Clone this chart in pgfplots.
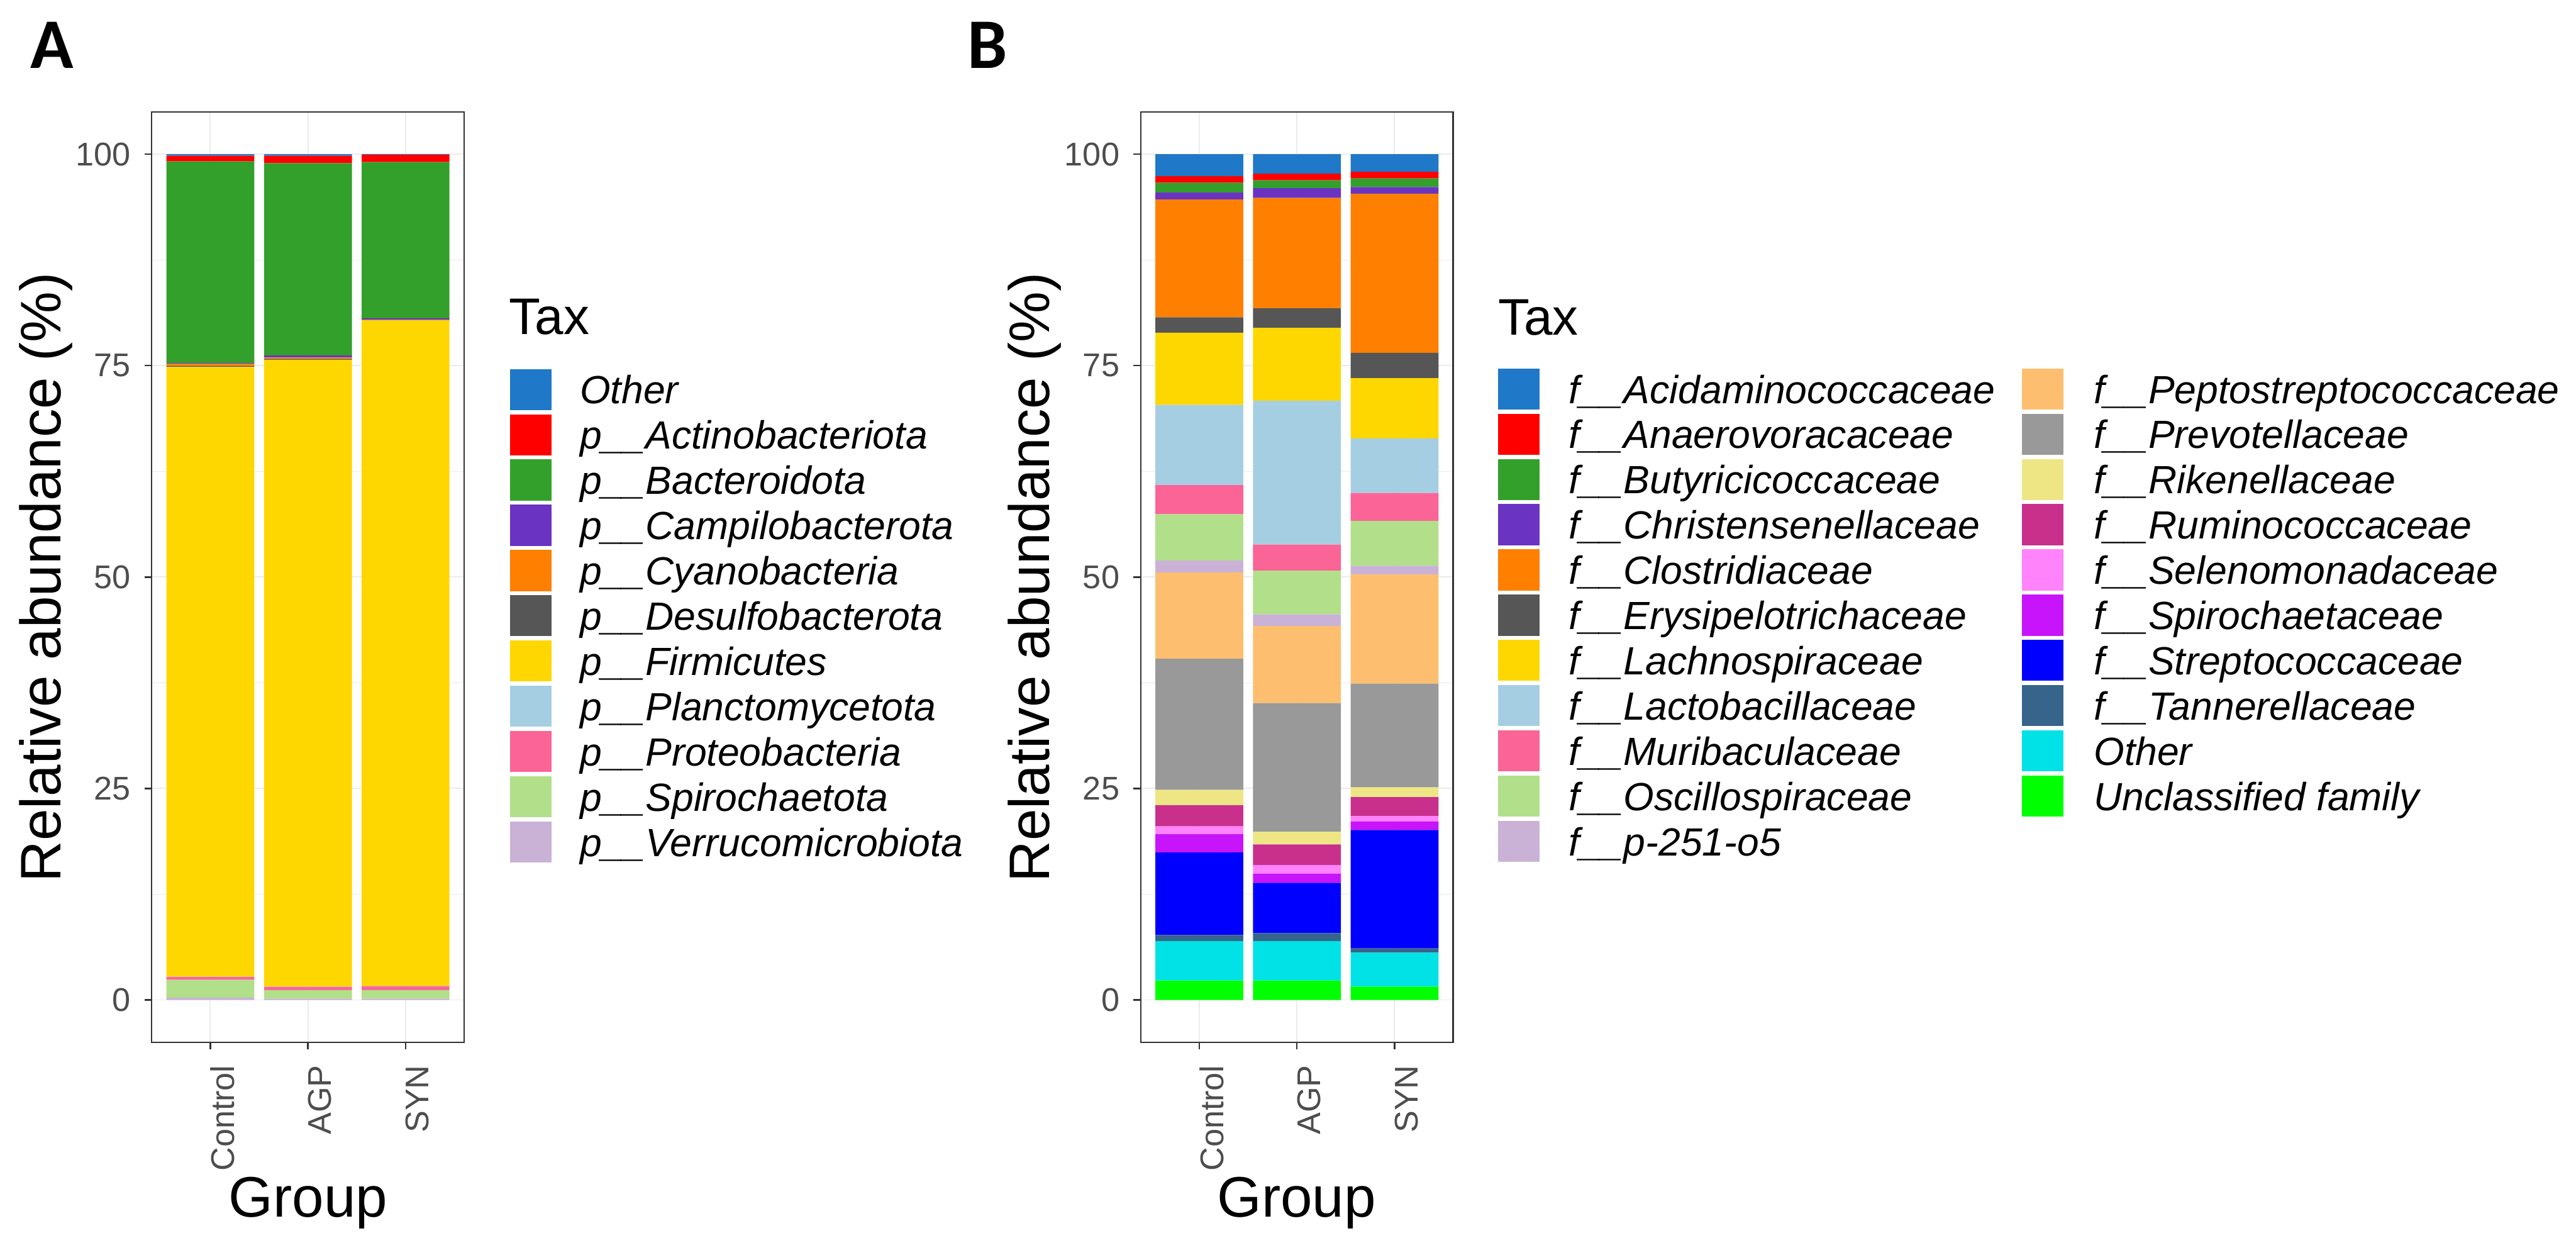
\documentclass[border=0pt]{standalone}
\usepackage{fontspec}
\setmainfont{Liberation Sans}
\newfontfamily\panelfont{Carlito}
\usepackage{pgfplots}
\pgfplotsset{compat=1.18}

% cols25-like palette
\definecolor{k01}{HTML}{1F78C8}
\definecolor{k02}{HTML}{FF0000}
\definecolor{k03}{HTML}{33A02C}
\definecolor{k04}{HTML}{6A33C2}
\definecolor{k05}{HTML}{FF7F00}
\definecolor{k06}{HTML}{565656}
\definecolor{k07}{HTML}{FFD700}
\definecolor{k08}{HTML}{A6CEE3}
\definecolor{k09}{HTML}{FB6496}
\definecolor{k10}{HTML}{B2DF8A}
\definecolor{k11}{HTML}{CAB2D6}
\definecolor{k12}{HTML}{FDBF6F}
\definecolor{k13}{HTML}{999999}
\definecolor{k14}{HTML}{EEE685}
\definecolor{k15}{HTML}{C8308C}
\definecolor{k16}{HTML}{FF83FA}
\definecolor{k17}{HTML}{C814FA}
\definecolor{k18}{HTML}{0000FF}
\definecolor{k19}{HTML}{36648B}
\definecolor{k20}{HTML}{00E2E5}
\definecolor{k21}{HTML}{00FF00}
\definecolor{grey20}{HTML}{333333}
\definecolor{grey30}{HTML}{4D4D4D}
\definecolor{grey92}{HTML}{EBEBEB}

\pgfplotsset{
  ggbar/.style={
    scale only axis, width=52.5mm, height=156.3mm,
    xmin=-0.6, xmax=2.6, ymin=-5, ymax=105,
    ybar stacked, bar width=0.9,
    axis line style={draw=grey20, line width=0.25mm},
    xtick={0,1,2}, xticklabels={Control,AGP,SYN},
    ytick={0,25,50,75,100},
    minor ytick={12.5,37.5,62.5,87.5},
    grid=both,
    major grid style={draw=grey92, line width=0.2mm},
    minor grid style={draw=grey92, line width=0.1mm},
    tick align=outside, major tick length=1.2mm, minor tick length=0pt,
    xtick pos=bottom, ytick pos=left,
    tick style={draw=grey20, line width=0.25mm},
    /pgf/number format/assume math mode=true,
    ticklabel style={font=\fontsize{15.7}{18}\selectfont, text=grey30},
    xticklabel style={rotate=90, anchor=north east, inner sep=0pt},
    yticklabel style={anchor=east, inner sep=0pt},
    xticklabel shift=2.6mm, yticklabel shift=2.3mm,
    every axis plot/.append style={draw=none},
  }
}

\begin{document}
\begin{tikzpicture}
\path[use as bounding box] (0,0) rectangle (432.9mm,-210.8mm);

% ---------------- panel A: phylum ----------------
\begin{axis}[ggbar, at={(25.5mm,-175.1mm)}, anchor=south west]
  \addplot[fill=k11] coordinates {(0,0.27) (1,0.14) (2,0.14)};  % Verrucomicrobiota
  \addplot[fill=k10] coordinates {(0,2.10) (1,1.03) (2,1.03)};  % Spirochaetota
  \addplot[fill=k09] coordinates {(0,0.35) (1,0.38) (2,0.46)};  % Proteobacteria
  \addplot[fill=k08] coordinates {(0,0.02) (1,0.02) (2,0.02)};  % Planctomycetota
  \addplot[fill=k07] coordinates {(0,72.10) (1,74.13) (2,78.70)}; % Firmicutes
  \addplot[fill=k06] coordinates {(0,0.12) (1,0.10) (2,0.05)};  % Desulfobacterota
  \addplot[fill=k05] coordinates {(0,0.25) (1,0.15) (2,0.05)};  % Cyanobacteria
  \addplot[fill=k04] coordinates {(0,0.10) (1,0.25) (2,0.15)};  % Campilobacterota
  \addplot[fill=k03] coordinates {(0,23.84) (1,22.73) (2,18.46)}; % Bacteroidota
  \addplot[fill=k02] coordinates {(0,0.66) (1,0.88) (2,0.88)};  % Actinobacteriota
  \addplot[fill=k01] coordinates {(0,0.19) (1,0.19) (2,0.06)};  % Other
\end{axis}

% ---------------- panel B: family ----------------
\begin{axis}[ggbar, at={(191.7mm,-175.1mm)}, anchor=south west]
  \addplot[fill=k21] coordinates {(0,2.30) (1,2.30) (2,1.58)};   % Unclassified family
  \addplot[fill=k20] coordinates {(0,4.66) (1,4.66) (2,4.02)};   % Other
  \addplot[fill=k19] coordinates {(0,0.72) (1,0.94) (2,0.50)};   % Tannerellaceae
  \addplot[fill=k18] coordinates {(0,9.76) (1,5.95) (2,14.00)};  % Streptococcaceae
  \addplot[fill=k17] coordinates {(0,2.16) (1,1.08) (2,1.00)};   % Spirochaetaceae
  \addplot[fill=k16] coordinates {(0,0.93) (1,1.01) (2,0.65)};   % Selenomonadaceae
  \addplot[fill=k15] coordinates {(0,2.51) (1,2.44) (2,2.23)};   % Ruminococcaceae
  \addplot[fill=k14] coordinates {(0,1.80) (1,1.51) (2,1.15)};   % Rikenellaceae
  \addplot[fill=k13] coordinates {(0,15.50) (1,15.21) (2,12.27)}; % Prevotellaceae
  \addplot[fill=k12] coordinates {(0,10.20) (1,9.12) (2,12.92)};  % Peptostreptococcaceae
  \addplot[fill=k11] coordinates {(0,1.43) (1,1.36) (2,1.01)};   % p-251-o5
  \addplot[fill=k10] coordinates {(0,5.46) (1,5.17) (2,5.31)};   % Oscillospiraceae
  \addplot[fill=k09] coordinates {(0,3.45) (1,3.09) (2,3.30)};   % Muribaculaceae
  \addplot[fill=k08] coordinates {(0,9.47) (1,17.01) (2,6.46)};  % Lactobacillaceae
  \addplot[fill=k07] coordinates {(0,8.55) (1,8.62) (2,7.11)};   % Lachnospiraceae
  \addplot[fill=k06] coordinates {(0,1.82) (1,2.30) (2,3.01)};   % Erysipelotrichaceae
  \addplot[fill=k05] coordinates {(0,13.92) (1,13.06) (2,18.81)}; % Clostridiaceae
  \addplot[fill=k04] coordinates {(0,0.82) (1,1.15) (2,0.79)};   % Christensenellaceae
  \addplot[fill=k03] coordinates {(0,1.16) (1,0.93) (2,1.01)};   % Butyricicoccaceae
  \addplot[fill=k02] coordinates {(0,0.78) (1,0.79) (2,0.79)};   % Anaerovoracaceae
  \addplot[fill=k01] coordinates {(0,2.60) (1,2.30) (2,2.08)};   % Acidaminococcaceae
\end{axis}

% ---------------- labels and legends (1 unit = 1 px of the reference) ----------------
\begin{scope}[x=0.1mm, y=-0.1mm]
  \node[anchor=north west, inner sep=0pt, font=\panelfont\bfseries\fontsize{34}{34}\selectfont] at (51,36) {A};
  \node[anchor=north west, inner sep=0pt, font=\panelfont\bfseries\fontsize{34}{34}\selectfont] at (1625,36) {B};

  \node[rotate=90, inner sep=0pt, font=\fontsize{27.3}{30}\selectfont] at (77,970) {Relative abundance (\%)};
  \node[rotate=90, inner sep=0pt, font=\fontsize{27.3}{30}\selectfont] at (1739,970) {Relative abundance (\%)};
  \node[anchor=base, inner sep=0pt, font=\fontsize{27.3}{30}\selectfont] at (518,2044) {Group};
  \node[anchor=base, inner sep=0pt, font=\fontsize{27.3}{30}\selectfont] at (2179,2044) {Group};

  % legend A
  \node[anchor=base west, inner sep=0pt, font=\fontsize{24.6}{28}\selectfont] at (855,562) {Tax};
  \foreach \c/\t [count=\i from 0] in {k01/Other, k02/p\_\_Actinobacteriota, k03/p\_\_Bacteroidota,
      k04/p\_\_Campilobacterota, k05/p\_\_Cyanobacteria, k06/p\_\_Desulfobacterota,
      k07/p\_\_Firmicutes, k08/p\_\_Planctomycetota, k09/p\_\_Proteobacteria,
      k10/p\_\_Spirochaetota, k11/p\_\_Verrucomicrobiota} {
    \fill[\c] (857,620+76*\i) rectangle ++(70,69);
    \node[anchor=base west, inner sep=0pt, font=\itshape\fontsize{18.8}{22}\selectfont] at (974,678.5+76*\i) {\t};
  }

  % legend B
  \node[anchor=base west, inner sep=0pt, font=\fontsize{24.6}{28}\selectfont] at (2517,563) {Tax};
  \foreach \c/\t [count=\i from 0] in {k01/f\_\_Acidaminococcaceae, k02/f\_\_Anaerovoracaceae,
      k03/f\_\_Butyricicoccaceae, k04/f\_\_Christensenellaceae, k05/f\_\_Clostridiaceae,
      k06/f\_\_Erysipelotrichaceae, k07/f\_\_Lachnospiraceae, k08/f\_\_Lactobacillaceae,
      k09/f\_\_Muribaculaceae, k10/f\_\_Oscillospiraceae, k11/f\_\_p-251-o5} {
    \fill[\c] (2517,619+76*\i) rectangle ++(70,69);
    \node[anchor=base west, inner sep=0pt, font=\itshape\fontsize{18.8}{22}\selectfont] at (2636,677.5+76*\i) {\t};
  }
  \foreach \c/\t [count=\i from 0] in {k12/f\_\_Peptostreptococcaceae, k13/f\_\_Prevotellaceae,
      k14/f\_\_Rikenellaceae, k15/f\_\_Ruminococcaceae, k16/f\_\_Selenomonadaceae,
      k17/f\_\_Spirochaetaceae, k18/f\_\_Streptococcaceae, k19/f\_\_Tannerellaceae,
      k20/Other, k21/Unclassified family} {
    \fill[\c] (3398,619+76*\i) rectangle ++(70,69);
    \node[anchor=base west, inner sep=0pt, font=\itshape\fontsize{18.8}{22}\selectfont] at (3518,677.5+76*\i) {\t};
  }
\end{scope}
\end{tikzpicture}
\end{document}
